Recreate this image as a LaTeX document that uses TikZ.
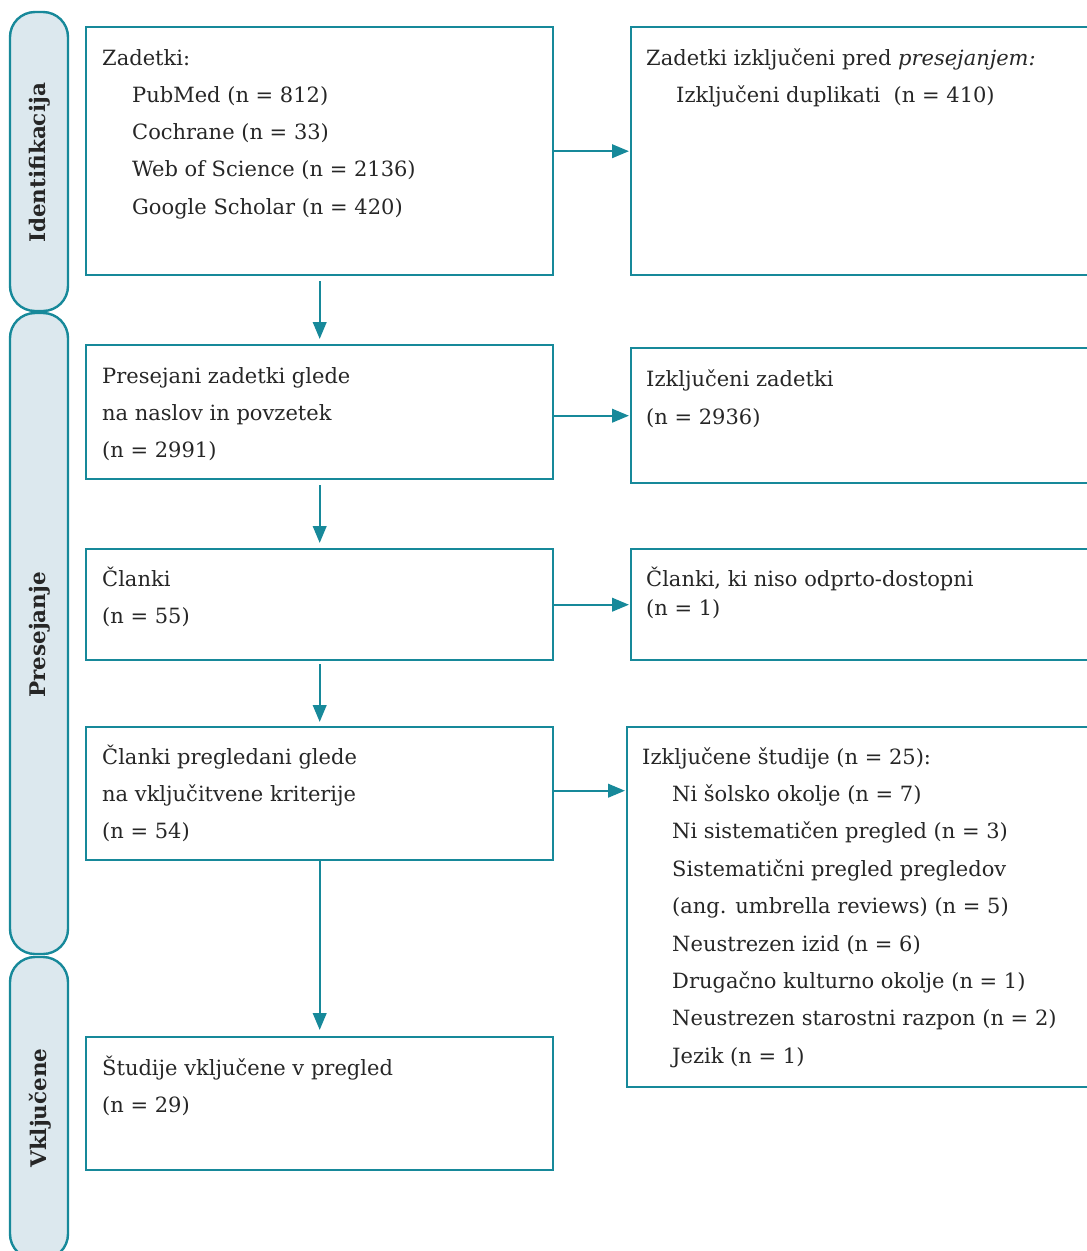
\documentclass[tikz,border=0pt]{standalone}
\usepackage{fontspec}
\setmainfont{DejaVu Serif}
\usetikzlibrary{arrows.meta,calc}
\definecolor{tealline}{HTML}{17899A}
\definecolor{pillfill}{HTML}{DCE8EE}
\definecolor{txtcol}{HTML}{262626}
\newcommand\Lns[2]{\vtop{\baselineskip=#1pt\lineskiplimit=-100pt\halign{##\hfil\cr#2\crcr}}}
\newcommand\ind{\hskip30pt}
\tikzset{
  boxst/.style={draw=tealline, line width=2.4pt, inner sep=0pt, anchor=north west},
  pillst/.style={draw=tealline, fill=pillfill, line width=2.4pt, rounded corners=25pt},
  txtst/.style={anchor=base west, inner sep=0pt, text=txtcol, font=\fontsize{21}{37.4}\selectfont},
  lblst/.style={rotate=90, inner sep=0pt, text=txtcol, font=\fontsize{21.5}{24}\selectfont\bfseries},
  arr/.style={draw=tealline, line width=2.4pt, -{Triangle[length=17pt,width=13.5pt]}}
}
\begin{document}
\begin{tikzpicture}[x=1pt,y=-1pt]
\useasboundingbox (0,0) rectangle (1087,1251);
\clip (0,0) rectangle (1087,1251);
% phase pills
\draw[pillst] (10,12) rectangle (68,311);
\draw[pillst] (10,313) rectangle (68,954);
\draw[pillst] (10,957) rectangle (68,1259);
\node[lblst] (l1) at (40,163) {Identifikacija};
\node[lblst] (l2) at (40,635) {Presejanje};
\node[lblst] (l3) at (40,1108) {Vključene};
% boxes
\node[boxst, minimum width=467pt, minimum height=248pt] (b1) at (85,26) {};
\node[boxst, minimum width=480pt, minimum height=248pt] (r1) at (630,26) {};
\node[boxst, minimum width=467pt, minimum height=134pt] (b2) at (85,344) {};
\node[boxst, minimum width=480pt, minimum height=135pt] (r2) at (630,347) {};
\node[boxst, minimum width=467pt, minimum height=111pt] (b3) at (85,548) {};
\node[boxst, minimum width=480pt, minimum height=111pt] (r3) at (630,548) {};
\node[boxst, minimum width=467pt, minimum height=133pt] (b4) at (85,726) {};
\node[boxst, minimum width=480pt, minimum height=360pt] (r4) at (626,726) {};
\node[boxst, minimum width=467pt, minimum height=133pt] (b5) at (85,1036) {};
% texts
\node[txtst] (t1) at ($(b1.north west)+(17,39)$) {\Lns{37.3}{Zadetki:\cr
\ind PubMed (n = 812)\cr
\ind Cochrane (n = 33)\cr
\ind Web of Science (n = 2136)\cr
\ind Google Scholar (n = 420)}};
\node[txtst] (tr1) at ($(r1.north west)+(16,39)$) {\Lns{37.3}{Zadetki izključeni pred \textit{presejanjem:}\cr
\ind Izključeni duplikati\ \ (n = 410)}};
\node[txtst] (t2) at ($(b2.north west)+(17,39)$) {\Lns{37.3}{Presejani zadetki glede\cr
na naslov in povzetek\cr
(n = 2991)}};
\node[txtst] (tr2) at ($(r2.north west)+(16,39)$) {\Lns{38}{Izključeni zadetki\cr
(n = 2936)}};
\node[txtst] (t3) at ($(b3.north west)+(17,38)$) {\Lns{37.5}{Članki\cr
(n = 55)}};
\node[txtst] (tr3) at ($(r3.north west)+(16,38)$) {\Lns{29}{Članki, ki niso odprto-dostopni\cr
(n = 1)}};
\node[txtst] (t4) at ($(b4.north west)+(17,38)$) {\Lns{37.4}{Članki pregledani glede\cr
na vključitvene kriterije\cr
(n = 54)}};
\node[txtst] (tr4) at ($(r4.north west)+(16,38)$) {\Lns{37.4}{Izključene študije (n = 25):\cr
\ind Ni šolsko okolje (n = 7)\cr
\ind Ni sistematičen pregled (n = 3)\cr
\ind Sistematični pregled pregledov\cr
\ind (ang. umbrella reviews) (n = 5)\cr
\ind Neustrezen izid (n = 6)\cr
\ind Drugačno kulturno okolje (n = 1)\cr
\ind Neustrezen starostni razpon (n = 2)\cr
\ind Jezik (n = 1)}};
\node[txtst] (t5) at ($(b5.north west)+(17,39)$) {\Lns{37.4}{Študije vključene v pregled\cr
(n = 29)}};
% vertical arrows
\draw[arr, shorten <=5pt, shorten >=5pt] (b1.south) -- (b2.north);
\draw[arr, shorten <=5pt, shorten >=5pt] (b2.south) -- (b3.north);
\draw[arr, shorten <=3pt, shorten >=4pt] (b3.south) -- (b4.north);
\draw[arr, shorten >=6pt] (b4.south) -- (b5.north);
% horizontal arrows
\draw[arr, shorten >=1pt] (b1.east) -- (r1.west);
\draw[arr, shorten >=1pt] (b2.east |- r2.west) -- (r2.west);
\draw[arr, shorten >=1pt] (b3.east) -- (r3.west);
\draw[arr, shorten >=1pt] ([yshift=3pt]b4.east) -- ([yshift=3pt]b4.east -| r4.west);
\end{tikzpicture}
\end{document}
